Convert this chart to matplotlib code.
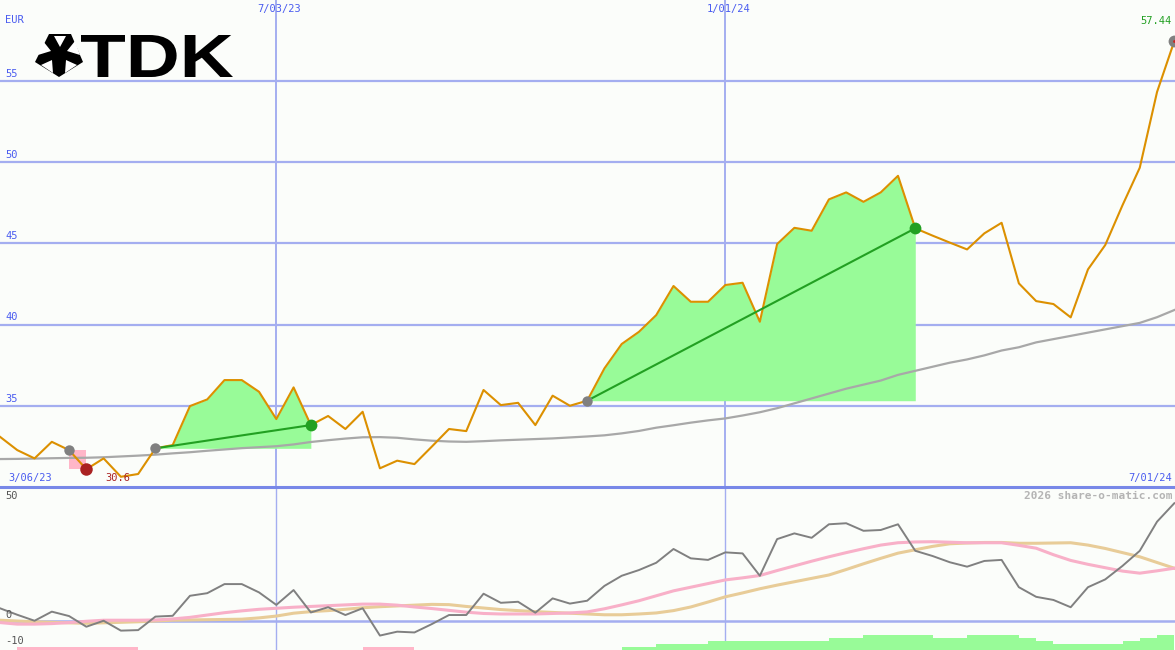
import numpy as np
import matplotlib
matplotlib.use("Agg")
import matplotlib.pyplot as plt
from matplotlib.lines import Line2D
from matplotlib.textpath import TextPath
from matplotlib.font_manager import FontProperties
from matplotlib.patches import PathPatch, Polygon
from matplotlib.transforms import Affine2D

# ---------------- data (weekly) ----------------
price = [33.09, 32.27, 31.76, 32.78, 32.27, 31.09, 31.76, 30.63, 30.80, 32.38,
         32.58, 34.98, 35.39, 36.58, 36.58, 35.86, 34.18, 36.13, 33.81, 34.37,
         33.57, 34.63, 31.15, 31.62, 31.41, 32.48, 33.57, 33.44, 35.97, 35.04,
         35.18, 33.81, 35.62, 35.00, 35.31, 37.30, 38.80, 39.55, 40.58, 42.37,
         41.40, 41.40, 42.43, 42.57, 40.17, 44.95, 45.95, 45.77, 47.70, 48.13,
         47.55, 48.13, 49.15, 45.92, 45.47, 45.04, 44.62, 45.61, 46.26, 42.53,
         41.44, 41.26, 40.44, 43.39, 44.89, 47.34, 49.65, 54.31, 57.44]

moving_avg = [31.72, 31.73, 31.75, 31.77, 31.79, 31.80, 31.83, 31.88, 31.93, 31.99,
              32.07, 32.14, 32.23, 32.31, 32.39, 32.45, 32.51, 32.62, 32.77, 32.88,
              32.98, 33.06, 33.07, 33.03, 32.93, 32.85, 32.80, 32.78, 32.82, 32.87,
              32.91, 32.95, 32.99, 33.05, 33.11, 33.18, 33.30, 33.45, 33.65, 33.80,
              33.96, 34.10, 34.22, 34.40, 34.60, 34.85, 35.15, 35.45, 35.75, 36.05,
              36.30, 36.55, 36.90, 37.15, 37.40, 37.65, 37.85, 38.10, 38.40, 38.60,
              38.90, 39.10, 39.30, 39.50, 39.70, 39.90, 40.10, 40.45, 40.89]

oscillator = [4.9, 2.4, 0.1, 3.6, 1.9, -2.2, 0.1, -3.7, -3.5, 1.7,
              2.0, 9.7, 10.7, 14.2, 14.2, 11.0, 6.2, 11.9, 3.3, 5.3,
              2.3, 4.9, -5.6, -4.1, -4.4, -1.2, 2.3, 2.3, 10.5, 7.0,
              7.4, 3.2, 8.7, 6.7, 7.8, 13.5, 17.4, 19.6, 22.4, 27.7,
              24.1, 23.5, 26.4, 26.0, 17.4, 31.5, 33.7, 32.0, 37.2, 37.6,
              34.7, 35.0, 37.2, 27.0, 25.0, 22.6, 20.9, 23.1, 23.5, 13.0,
              9.3, 8.1, 5.3, 13.0, 16.0, 21.2, 27.0, 38.2, 45.3]

signal_fast = [-0.6, -1.2, -1.2, -1.0, -0.6, -0.1, 0.3, 0.3, 0.3, 0.4,
               0.8, 1.4, 2.3, 3.2, 3.9, 4.5, 4.9, 5.3, 5.6, 5.9,
               6.2, 6.5, 6.5, 6.1, 5.4, 4.8, 4.1, 3.4, 2.9, 2.7,
               2.7, 2.7, 2.9, 3.1, 3.5, 4.7, 6.2, 7.8, 9.7, 11.6,
               13.0, 14.4, 15.8, 16.6, 17.5, 19.4, 21.2, 23.0, 24.7, 26.3,
               27.8, 29.2, 30.1, 30.4, 30.5, 30.3, 30.1, 30.1, 30.1, 29.1,
               28.0, 25.5, 23.3, 21.8, 20.5, 19.2, 18.4, 19.3, 20.3]

signal_slow = [0.3, 0.0, -0.3, -0.5, -0.7, -0.9, -0.7, -0.5, -0.3, 0.0,
               0.3, 0.4, 0.5, 0.6, 0.7, 1.2, 1.9, 3.0, 3.6, 4.0,
               4.5, 5.1, 5.5, 5.8, 6.1, 6.4, 6.3, 5.6, 5.0, 4.4,
               4.0, 3.6, 3.3, 3.0, 2.7, 2.4, 2.4, 2.7, 3.1, 4.0,
               5.4, 7.3, 9.3, 10.8, 12.4, 13.8, 15.1, 16.4, 17.7, 19.8,
               22.0, 24.1, 26.1, 27.4, 28.7, 29.7, 30.0, 30.2, 30.2, 29.9,
               29.9, 30.0, 30.1, 29.2, 27.9, 26.3, 24.7, 22.5, 20.3]

# strength bars (week start index, level)
green_bar_weeks = list(range(36, 68))
green_bar_levels = [1, 1, 2, 2, 2, 3, 3, 3, 3, 3, 3, 3, 4, 4, 5, 5, 5, 5,
                    4, 4, 5, 5, 5, 4, 3, 2, 2, 2, 2, 3, 4, 5]
pink_bar_weeks = [1, 2, 3, 4, 5, 6, 7, 21, 22, 23]
pink_bar_levels = [1, 1, 1, 1, 1, 1, 1, 1, 1, 1]

# trade segments (start week, end week)
gain_segments = [(9, 18), (34, 53)]
loss_segment = (4, 5)

price_gridlines = [35, 40, 45, 50, 55]
date_grid_weeks = [16, 42]
date_grid_labels = ["7/03/23", "1/01/24"]
start_label, end_label = "3/06/23", "7/01/24"
low_label = "30.6"
last_label = "57.44"

weeks = np.arange(len(price))

# ---------------- style ----------------
W, H = 1175, 650
BG = "#fbfdfa"
GRID = "#a4aef0"
TXT = "#4a5cf0"
fig = plt.figure(figsize=(W / 100, H / 100), dpi=100, facecolor=BG)

split = 487
ax1 = fig.add_axes([0, (H - split) / H, 1, split / H])
ax2 = fig.add_axes([0, 0, 1, (H - split) / H])
for ax in (ax1, ax2):
    ax.set_facecolor(BG)
    for s in ax.spines.values():
        s.set_visible(False)
    ax.set_xticks([])
    ax.set_yticks([])
    ax.set_xlim(0, 68.04)

ax1.set_ylim(30.0, 59.97)
ax2.set_ylim(-11.15, 51.54)

# grid main
for g in price_gridlines:
    ax1.axhline(g, color=GRID, lw=1.6, zorder=0)
for wk in date_grid_weeks:
    ax1.axvline(wk, color=GRID, lw=1.4, zorder=0)
    ax2.axvline(wk, color=GRID, lw=1.0, zorder=0)
ax2.axhline(0, color=GRID, lw=1.8, zorder=0)

# fills
for s, e in gain_segments:
    xs = weeks[s:e + 1]
    ys = np.array(price[s:e + 1])
    ax1.fill_between(xs, ys, price[s], where=ys >= price[s], interpolate=True,
                     color="#98fb98", lw=0, zorder=1)
ls, le = loss_segment
ax1.fill_between([ls, le], price[le], price[ls], color="#ffb6c8", lw=0, zorder=1)

# lines
ax1.plot(weeks, moving_avg, color="#a8a8a8", lw=1.6, zorder=2)
ax1.plot(weeks, price, color="#dc9000", lw=1.5, zorder=3)
for s, e in gain_segments:
    ax1.plot([s, e], [price[s], price[e]], color="#22a022", lw=1.5, zorder=4)
    ax1.plot(s, price[s], "o", color="#808080", ms=7.5, mec="none", zorder=5)
    ax1.plot(e, price[e], "o", color="#22a022", ms=8.5, mec="none", zorder=5)
ax1.plot(ls, price[ls], "o", color="#808080", ms=7.5, mec="none", zorder=5)
ax1.plot(le, price[le], "o", color="#aa2222", ms=9, mec="none", zorder=5)
last = len(price) - 1
ax1.plot(last, price[last], "o", color="#808080", ms=8.5, mec="none", zorder=5,
         clip_on=False)
ax1.plot(last, price[last], "o", color="#cc2222", ms=2, mec="none", zorder=6,
         clip_on=False)

# lower panel
base = -11.15
unit = 3 / 2.6
ax2.bar(np.array(green_bar_weeks) + 0.5, np.array(green_bar_levels) * unit,
        width=1.0, bottom=base, color="#98fb98", lw=0, zorder=1)
ax2.bar(np.array(pink_bar_weeks) + 0.5, np.array(pink_bar_levels) * unit,
        width=1.0, bottom=base, color="#ffb6c8", lw=0, zorder=1)
ax2.plot(weeks, signal_slow, color="#e8cc98", lw=2.2, zorder=2)
ax2.plot(weeks, signal_fast, color="#f8b0c8", lw=2.2, zorder=2)
ax2.plot(weeks, oscillator, color="#808080", lw=1.4, zorder=3)

# separator
fig.add_artist(Line2D([0, 1], [(H - split) / H] * 2, color="#7888e8", lw=2.2))

# ---------------- text ----------------
mono = "DejaVu Sans Mono"


def ftxt(x, y, s, **kw):
    kw.setdefault("family", mono)
    kw.setdefault("fontsize", 7.5)
    kw.setdefault("color", TXT)
    kw.setdefault("va", "center")
    fig.text(x / W, 1 - y / H, s, **kw)


ftxt(5, 20, "EUR")
for g in price_gridlines:
    ypx = 80.7 + (55 - g) * 16.25
    ftxt(5, ypx - 7, str(g))
for wk, lab in zip(date_grid_weeks, date_grid_labels):
    ftxt(wk * 17.27 + 3, 9, lab, ha="center")
ftxt(8, 478, start_label)
ftxt(1172, 478, end_label, ha="right")
ftxt(105, 478, low_label, color="#aa2222")
ftxt(1172, 21, last_label, color="#22a022", ha="right")
ftxt(1172, 496, "2026 share-o-matic.com", color="#b4b4b4", ha="right",
     fontweight="bold", fontsize=8)
ftxt(5, 496, "50", color="#555555")
ftxt(5, 615, "0", color="#555555")
ftxt(5, 641, "-10", color="#555555")

# ---------------- logo ----------------
ov = fig.add_axes([0, 0, 1, 1], facecolor="none")
ov.set_xlim(0, W)
ov.set_ylim(H, 0)
ov.axis("off")

tp = TextPath((0, 0), "TDK", size=100,
              prop=FontProperties(family="Liberation Sans", weight="bold"))
ext = tp.get_extents()
x0, x1, y0, y1 = 81, 233, 35, 77
sx = (x1 - x0) / ext.width
sy = (y1 - y0) / ext.height
tr = Affine2D().translate(-ext.x0, -ext.y0).scale(sx, -sy).translate(x0, y1)
ov.add_patch(PathPatch(tr.transform_path(tp), color="black", lw=0))

# emblem: black pentagon with white triangular notches
pent = [(49, 34), (71, 34), (83, 62), (59, 77), (35, 62)]
ov.add_patch(Polygon(pent, closed=True, facecolor="black", edgecolor="none"))
white_tris = [
    [(54, 36), (66, 36), (60, 47)],
    [(75, 41), (80, 55), (67, 51)],
    [(77, 65), (65, 73), (66, 60)],
    [(41, 65), (53, 73), (52, 60)],
    [(43, 41), (38, 55), (51, 51)],
]
for t in white_tris:
    ov.add_patch(Polygon(t, closed=True, facecolor="white", edgecolor="none"))

fig.savefig("out.png", dpi=100, facecolor=BG)
